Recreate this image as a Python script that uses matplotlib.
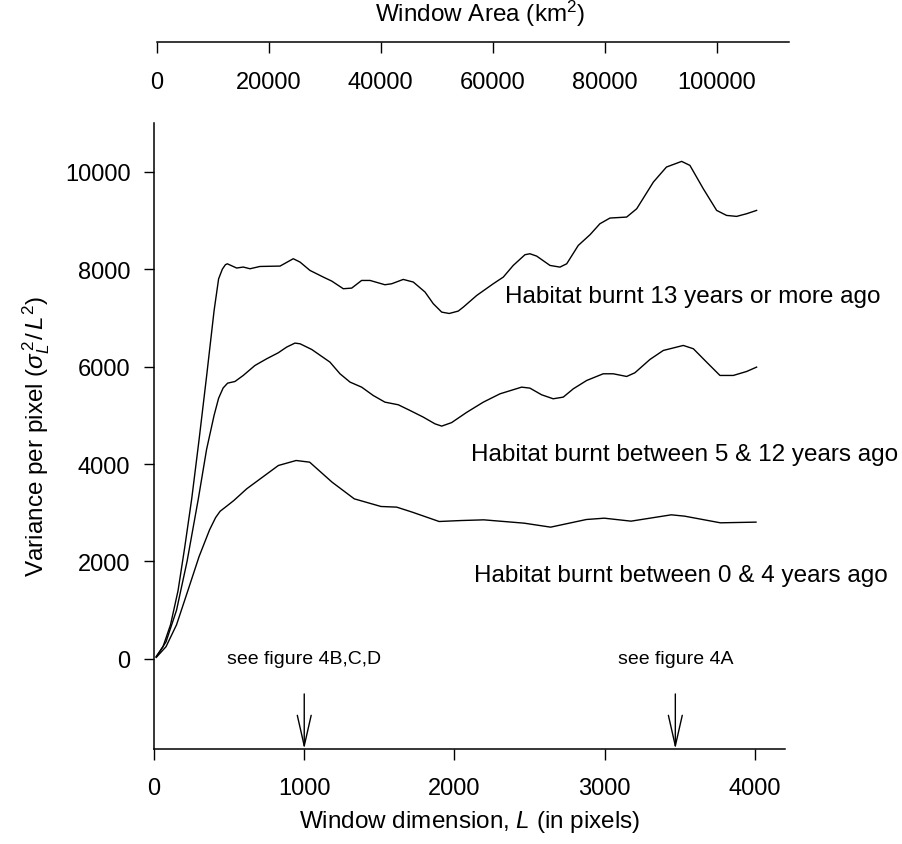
import matplotlib.pyplot as plt
import numpy as np

plt.rcParams['font.family'] = ['Liberation Sans', 'DejaVu Sans']
plt.rcParams['mathtext.fontset'] = 'custom'
plt.rcParams['mathtext.rm'] = 'Liberation Sans'
plt.rcParams['mathtext.it'] = 'Liberation Sans:italic'

# Data (window dimension L in pixels, variance per pixel)
old_x = [15, 60, 110, 160, 205, 251, 300, 350, 400, 430, 455, 475, 488, 550, 594, 639, 705, 839,
         927, 972, 1038, 1127, 1183, 1260, 1316, 1382, 1438, 1537, 1582, 1659, 1726, 1804, 1859,
         1915, 1965, 2025, 2059, 2148, 2258, 2325, 2391, 2469, 2502, 2547, 2636, 2702, 2747,
         2824, 2902, 2968, 3035, 3146, 3213, 3324, 3411, 3512, 3567, 3656, 3745, 3811, 3878,
         3945, 4011]
old_y = [50, 250, 700, 1400, 2300, 3285, 4500, 5800, 7150, 7800, 8000, 8090, 8110, 8023, 8043,
         8008, 8055, 8063, 8214, 8145, 7974, 7837, 7755, 7598, 7611, 7768, 7768, 7680, 7700,
         7789, 7735, 7530, 7290, 7118, 7090, 7139, 7221, 7460, 7700, 7837, 8076, 8296, 8316,
         8268, 8076, 8042, 8110, 8487, 8706, 8932, 9049, 9069, 9240, 9788, 10096, 10212, 10130,
         9651, 9206, 9103, 9083, 9138, 9206]

mid_x = [15, 80, 150, 220, 295, 350, 400, 430, 460, 490, 539, 594, 672, 750, 827, 883, 938, 972,
         1050, 1171, 1238, 1305, 1382, 1459, 1537, 1626, 1704, 1792, 1870, 1915, 1981, 2081,
         2192, 2303, 2447, 2502, 2580, 2657, 2724, 2791, 2880, 2990, 3057, 3146, 3201, 3301,
         3390, 3523, 3590, 3678, 3767, 3856, 3945, 4011]
mid_y = [40, 350, 1000, 2000, 3285, 4300, 5000, 5350, 5560, 5660, 5694, 5818, 6023, 6160, 6283,
         6400, 6482, 6468, 6351, 6092, 5852, 5681, 5578, 5407, 5270, 5216, 5099, 4963, 4825,
         4778, 4850, 5060, 5270, 5441, 5578, 5558, 5421, 5339, 5373, 5544, 5715, 5852, 5852,
         5797, 5873, 6146, 6331, 6434, 6366, 6092, 5818, 5818, 5900, 5989]

new_x = [15, 80, 150, 220, 300, 370, 410, 440, 490, 531, 617, 709, 828, 946, 1036, 1185, 1333,
         1511, 1615, 1719, 1898, 2046, 2195, 2463, 2640, 2878, 2997, 3175, 3443, 3531, 3770, 4007]
new_y = [30, 250, 700, 1350, 2100, 2650, 2900, 3030, 3150, 3250, 3491, 3700, 3970, 4072, 4038,
         3628, 3285, 3128, 3115, 3012, 2820, 2840, 2854, 2786, 2704, 2861, 2888, 2827, 2957,
         2930, 2793, 2807]

x_ticks = [0, 1000, 2000, 3000, 4000]
y_ticks = [0, 2000, 4000, 6000, 8000, 10000]
area_ticks = [0, 20000, 40000, 60000, 80000, 100000]

labels = ['Habitat burnt 13 years or more ago',
          'Habitat burnt between 5 & 12 years ago',
          'Habitat burnt between 0 & 4 years ago']
label_pos = [(2336, 7454), (2113, 4209), (2130, 1720)]
pointers = [('see figure 4B,C,D', 1000), ('see figure 4A', 3470)]

fig = plt.figure(figsize=(9.02, 8.45), dpi=100)
ax = fig.add_axes([154 / 902, 95 / 845, 631 / 902, 626 / 845])

for xs, ys in [(old_x, old_y), (mid_x, mid_y), (new_x, new_y)]:
    ax.plot(xs, ys, color='k', lw=1.0)

ax.set_xlim(0, 4200)
ax.set_ylim(-1850, 11000)
ax.spines['top'].set_visible(False)
ax.spines['right'].set_visible(False)
for s in ['left', 'bottom']:
    ax.spines[s].set_linewidth(1.1)
ax.set_xticks(x_ticks)
ax.set_yticks(y_ticks)
ax.tick_params(axis='both', labelsize=17, length=8, width=1, pad=12)
ax.tick_params(axis='y', length=7, pad=10)

ax.set_xlabel('Window dimension, $L$ (in pixels)', fontsize=17.5, labelpad=7)
ax.set_ylabel(r'Variance per pixel ($\sigma_L^{\,2}/\,L^2$)', fontsize=17.5, labelpad=9)

for txt, (tx, ty) in zip(labels, label_pos):
    ax.text(tx, ty, txt, fontsize=17.5, ha='left', va='center')

for txt, px in pointers:
    ax.text(px, 0, txt, fontsize=14, ha='center', va='center')
    ax.annotate('', xy=(px, -1850), xytext=(px, -720),
                arrowprops=dict(arrowstyle='->,head_length=2.2,head_width=0.5',
                                lw=1.0, color='k', shrinkA=0, shrinkB=0),
                annotation_clip=False)

# top axis: window area
top = fig.add_axes([156.7 / 902, (845 - 43) / 845, (789 - 156.7) / 902, 0.0001])
top.set_xlim(0, 112900)
for s in ['top', 'left', 'right']:
    top.spines[s].set_visible(False)
top.spines['bottom'].set_linewidth(1.1)
top.set_yticks([])
top.set_xticks(area_ticks)
top.tick_params(axis='x', labelsize=17, length=8, width=1, pad=13)
top.patch.set_visible(False)
fig.text(480 / 902, 1 - 14 / 845, 'Window Area (km$^2$)', fontsize=17.5, ha='center', va='center')

fig.savefig('out.png', dpi=100)
